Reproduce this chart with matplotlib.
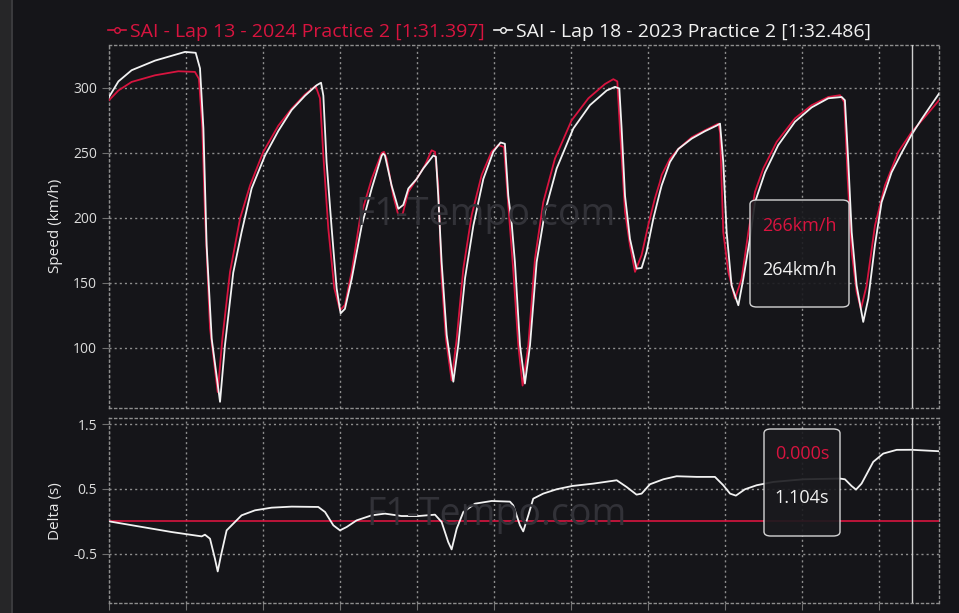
import matplotlib
matplotlib.use('Agg')
import matplotlib.pyplot as plt
from matplotlib.lines import Line2D
from matplotlib.patches import FancyBboxPatch, Rectangle

plt.rcParams['font.family'] = ['Open Sans', 'DejaVu Sans']

BG = '#151519'
RED = '#d8143f'
WHITE = '#f2f2f2'
GRID = '#8e8e8e'

LAP_LEN = 5390  # metres (x axis extent)
CURSOR = 5212

labels = ['SAI - Lap 13 - 2024 Practice 2 [1:31.397]',
          'SAI - Lap 18 - 2023 Practice 2 [1:32.486]']

# --- speed traces (distance m, km/h) ---
d_2024 = [0, 61, 147, 299, 450, 558, 584, 606, 623, 656, 706, 736, 786, 851, 916, 1002,
          1100, 1186, 1273, 1342, 1370, 1392, 1424, 1463, 1500, 1532, 1576, 1630, 1706, 1771,
          1786, 1803, 1846, 1879, 1907, 1944, 1998, 2052, 2095, 2117, 2138, 2160, 2188, 2225,
          2258, 2301, 2355, 2420, 2485, 2528, 2565, 2593, 2626, 2658, 2686, 2723, 2766, 2820,
          2896, 3004, 3113, 3221, 3275, 3301, 3318, 3351, 3383, 3416, 3459, 3502, 3545, 3578,
          3589, 3643, 3697, 3784, 3870, 3957, 3968, 3989, 4022, 4065, 4108, 4152, 4195, 4249,
          4336, 4455, 4563, 4671, 4747, 4775, 4797, 4823, 4855, 4883, 4920, 4974, 5039, 5126,
          5212, 5299, 5390]
v_2024 = [290.5, 298, 304.6, 309.7, 312.8, 312.3, 307, 269, 204.6, 115, 66, 107, 158.5, 199.5,
          225, 250.8, 271, 284, 295, 301.5, 292, 248, 192, 146, 129, 133, 158.5, 199.5, 230, 250,
          250.8, 245.6, 217, 202, 203, 220, 230, 240.5, 252, 250.8, 225, 153.5, 107, 75,
          107, 161, 202, 233, 251, 256, 254.6, 209.7, 158.5, 102, 71, 102, 168.5, 212,
          245.6, 275, 292, 303, 306.7, 305, 268.7, 204.6, 179, 158.5, 171.5, 194.5, 215, 227.7,
          233, 245.6, 253, 262, 267.4, 272.5, 266, 189, 158.5, 138, 153, 189, 220, 238,
          258.5, 276.6, 286.7, 293, 294.4, 289, 230, 174, 143, 130, 148, 194, 225, 250.8,
          266, 277.7, 290.5]

d_2023 = [0, 61, 147, 299, 494, 563, 591, 613, 634, 667, 721, 753, 807, 861, 926, 1013,
          1100, 1186, 1273, 1348, 1377, 1392, 1413, 1446, 1478, 1504, 1532, 1576, 1641, 1706, 1771,
          1781, 1792, 1835, 1879, 1911, 1944, 1998, 2041, 2106, 2123, 2138, 2160, 2193, 2236,
          2268, 2312, 2366, 2431, 2496, 2543, 2571, 2593, 2615, 2636, 2669, 2701, 2734, 2777,
          2831, 2907, 3015, 3123, 3232, 3286, 3314, 3329, 3351, 3383, 3426, 3459, 3491, 3535,
          3578, 3589, 3643, 3697, 3784, 3870, 3946, 3968, 3989, 4011, 4043, 4087, 4119, 4162,
          4195, 4260, 4346, 4455, 4563, 4671, 4758, 4779, 4801, 4823, 4855, 4898, 4931, 4974,
          5017, 5082, 5147, 5212, 5277, 5390]
v_2023 = [293, 305, 313.6, 321, 327.7, 327, 315, 269, 179, 107, 58.5, 102, 158, 189, 222.6, 248,
          267, 283, 294, 302, 304, 294, 243, 192, 146, 126.6, 130, 153, 194, 222.6, 248,
          249.5, 248, 225, 207, 210, 222.6, 230, 238, 248, 247, 217, 166, 110, 74,
          102, 153.5, 194, 230, 251, 258, 257, 217, 196, 166, 102, 72.6, 102, 166,
          204.6, 238, 268.7, 286.7, 298, 300.8, 299.5, 268.7, 217, 184, 161, 161.5, 174, 199.5,
          220, 225, 243, 253, 261, 266.7, 271, 272.5, 243, 189, 148, 132.8, 153, 184,
          212, 235, 256, 274, 285, 292, 293, 290.5, 243, 189, 148, 120, 138, 179,
          212, 235, 250, 264, 276, 295.6]

# --- delta (s) vs reference lap ---
d_ref = [0, LAP_LEN]
delta_ref = [0.0, 0.0]
d_delta = [0, 190, 407, 602, 623, 656, 688, 706, 727, 764, 807, 861, 948, 1056, 1186, 1359,
           1403, 1457, 1500, 1543, 1608, 1706, 1792, 1900, 2009, 2117, 2160, 2203, 2225, 2258,
           2301, 2377, 2485, 2604, 2625, 2669, 2690, 2723, 2755, 2820, 2907, 3009, 3145, 3297,
           3361, 3426, 3459, 3513, 3600, 3686, 3816, 3935, 3989, 4033, 4071, 4130, 4206, 4314,
           4509, 4747, 4779, 4822, 4851, 4887, 4963, 5028, 5115, 5212, 5390]
delta = [0, -0.077, -0.165, -0.232, -0.206, -0.268, -0.577, -0.773, -0.526, -0.139, -0.036,
         0.093, 0.17, 0.211, 0.227, 0.222, 0.144, -0.062, -0.139, -0.088, 0.015, 0.093, 0.119,
         0.082, 0.082, 0.103, -0.01, -0.32, -0.433, -0.113, 0.144, 0.273, 0.314, 0.304, 0.247,
         -0.062, -0.155, 0.093, 0.35, 0.428, 0.495, 0.546, 0.582, 0.634, 0.531, 0.412, 0.428,
         0.572, 0.649, 0.696, 0.686, 0.686, 0.557, 0.428, 0.397, 0.495, 0.557, 0.608, 0.649,
         0.66, 0.649, 0.546, 0.49, 0.582, 0.918, 1.046, 1.103, 1.104, 1.082]

speed_ticks = [100, 150, 200, 250, 300]
delta_ticks = [-0.5, 0.5, 1.5]
x_ticks = list(range(0, 5001, 500))

fig = plt.figure(figsize=(9.59, 6.13), dpi=100, facecolor=BG)
fig.patches.append(Rectangle((0, 0), 12 / 959, 1, transform=fig.transFigure,
                             facecolor='#262628', edgecolor='none', zorder=0))
fig.patches.append(Rectangle((11 / 959, 0), 1.5 / 959, 1, transform=fig.transFigure,
                             facecolor='#3a3a3d', edgecolor='none', zorder=0))

ax1 = fig.add_axes([109 / 959, 1 - 407.7 / 613, 830 / 959, 362.7 / 613])
ax2 = fig.add_axes([109 / 959, 1 - 603 / 613, 830 / 959, 184.7 / 613])

dots = (0, (1.5, 2.2))
for ax in (ax1, ax2):
    ax.set_facecolor(BG)
    for s in ax.spines.values():
        s.set_color(GRID)
        s.set_linestyle(dots)
        s.set_linewidth(1)
    ax.grid(True, color=GRID, linestyle=dots, linewidth=1)
    ax.set_xlim(0, LAP_LEN)
    ax.set_xticks(x_ticks)
    ax.tick_params(colors='#6f6f6f', labelcolor='#dcdcdc', labelsize=10, length=5)
    ax.axvline(CURSOR, color='#cfcfcf', linewidth=1, zorder=4)

# speed panel
ax1.plot(d_2024, v_2024, color=RED, linewidth=1.3, zorder=3)
ax1.plot(d_2023, v_2023, color=WHITE, linewidth=1.3, zorder=3)
ax1.set_ylim(54, 333)
ax1.set_yticks(speed_ticks)
ax1.tick_params(axis='x', length=0, labelbottom=False)
ax1.set_ylabel('Speed (km/h)', color='#e6e6e6', fontsize=11)
ax1.yaxis.set_label_coords(-0.055, 0.5)

# delta panel
ax2.plot(d_ref, delta_ref, color=RED, linewidth=1.2, zorder=3)
ax2.plot(d_delta, delta, color=WHITE, linewidth=1.3, zorder=3)
ax2.set_ylim(-1.26, 1.59)
ax2.set_yticks(delta_ticks)
ax2.set_yticklabels(['-0.5', '0.5', '1.5'])
ax2.tick_params(axis='x', labelbottom=False)
ax2.set_ylabel('Delta (s)', color='#e6e6e6', fontsize=11)
ax2.yaxis.set_label_coords(-0.055, 0.5)

# watermarks
fig.text(0.506, 0.649, 'F1-Tempo.com', color='#323238', fontsize=27,
         ha='center', va='center', zorder=1)
fig.text(0.518, 0.160, 'F1-Tempo.com', color='#323238', fontsize=27,
         ha='center', va='center', zorder=1)

# tooltip boxes
def tooltip(x0, y0, w, h, top, bottom, ty1, ty2):
    box = FancyBboxPatch((x0 / 959, 1 - (y0 + h) / 613), w / 959, h / 613,
                         boxstyle='round,pad=0,rounding_size=0.007',
                         transform=fig.transFigure, facecolor='#1a1a1e', alpha=0.9,
                         edgecolor='#e8e8e8', linewidth=1, zorder=10)
    fig.patches.append(box)
    cx = (x0 + w / 2) / 959
    fig.text(cx, 1 - ty1 / 613, top, color=RED, fontsize=13, ha='center', va='center', zorder=11)
    fig.text(cx, 1 - ty2 / 613, bottom, color=WHITE, fontsize=13, ha='center', va='center', zorder=11)

tooltip(750, 200, 99, 107, '266km/h', '264km/h', 226, 270)
tooltip(764, 429, 76, 107, '0.000s', '1.104s', 454, 498)

handles = [Line2D([], [], color=RED, marker='o', markersize=4, markerfacecolor=BG, linewidth=1.2),
           Line2D([], [], color=WHITE, marker='o', markersize=4, markerfacecolor=BG, linewidth=1.2)]
leg = fig.legend(handles, labels, loc='center', bbox_to_anchor=(0.5105, 0.948), ncol=2,
                 frameon=False, fontsize=14, handlelength=0.9, handletextpad=0.2,
                 columnspacing=0.5)
leg.get_texts()[0].set_color(RED)
leg.get_texts()[1].set_color(WHITE)

fig.savefig('out.png', dpi=100, facecolor=BG)
